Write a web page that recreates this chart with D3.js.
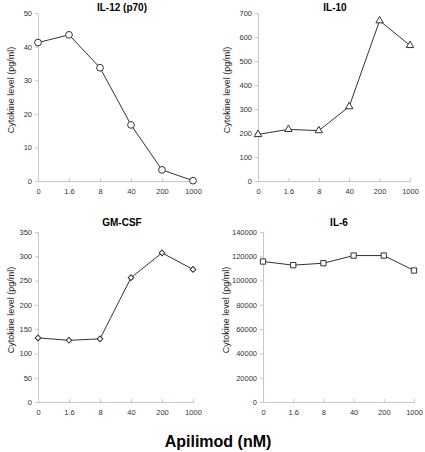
<!DOCTYPE html>
<html><head><meta charset="utf-8">
<script src="https://cdn.jsdelivr.net/npm/d3@7"></script>
<style>body{margin:0;background:#fff}svg{display:block}</style>
</head><body>
<script>
const doses = ["0","1.6","8","40","200","1000"];
const il12 = [41.2, 43.5, 33.7, 16.7, 3.3, 0.1];
const il10 = [194, 215, 210, 310, 668, 565];
const gmcsf = [132, 127, 130, 256, 307, 273];
const il6 = [115700, 112700, 114300, 120600, 120600, 108300];
const il12Ticks = [0,10,20,30,40,50];
const il10Ticks = [0,100,200,300,400,500,600,700];
const gmcsfTicks = [0,50,100,150,200,250,300,350];
const il6Ticks = [0,20000,40000,60000,80000,100000,120000,140000];

const panels = [
  {title:"IL-12 (p70)", vals:il12, ticks:il12Ticks, marker:"circle", x0:38, x1:193, y0:181, y1:13, tx:122, ty:11, lx:12},
  {title:"IL-10", vals:il10, ticks:il10Ticks, marker:"triangle", x0:258, x1:410, y0:181, y1:13, tx:335, ty:11, lx:228},
  {title:"GM-CSF", vals:gmcsf, ticks:gmcsfTicks, marker:"diamond", x0:38, x1:193, y0:402, y1:232, tx:122, ty:226, lx:12},
  {title:"IL-6", vals:il6, ticks:il6Ticks, marker:"square", x0:263, x1:414, y0:402, y1:232, tx:339, ty:226, lx:227}
];

const svg = d3.select("body").append("svg").attr("width",425).attr("height",452);
const font = "'Liberation Sans', Arial, sans-serif";

panels.forEach(p => {
  const x = d3.scalePoint().domain(doses).range([p.x0, p.x1]);
  const y = d3.scaleLinear().domain([0, d3.max(p.ticks)]).range([p.y0, p.y1]);
  const g = svg.append("g");
  const yAx = g.append("g").attr("transform",`translate(${p.x0},0)`)
    .call(d3.axisLeft(y).tickValues(p.ticks).tickSize(3).tickPadding(3).tickFormat(d3.format("d")));
  const xAx = g.append("g").attr("transform",`translate(0,${p.y0})`)
    .call(d3.axisBottom(x).tickSize(-3).tickPadding(8));
  [yAx,xAx].forEach(a => {
    a.select(".domain").attr("stroke","#c8c8c8");
    a.selectAll(".tick line").attr("stroke","#c8c8c8");
    a.selectAll("text").attr("fill","#333").style("font-family",font).style("font-size","7.5px");
  });
  const line = d3.line().x((d,i)=>x(doses[i])).y(d=>y(d));
  g.append("path").datum(p.vals).attr("d",line).attr("fill","none").attr("stroke","#333").attr("stroke-width",1);
  const symType = {circle:d3.symbolCircle, triangle:d3.symbolTriangle, diamond:d3.symbolSquare, square:d3.symbolSquare}[p.marker];
  const size = {circle:36, triangle:24, diamond:16, square:28}[p.marker];
  const rot = p.marker === "diamond" ? " rotate(45)" : "";
  g.selectAll(".m").data(p.vals).join("path")
    .attr("transform",(d,i)=>`translate(${x(doses[i])},${y(d)})${rot}`)
    .attr("d", d3.symbol().type(symType).size(size))
    .attr("fill","#fff").attr("stroke","#333").attr("stroke-width",1);
  g.append("text").attr("x",p.tx).attr("y",p.ty).attr("text-anchor","middle")
    .style("font-family",font).style("font-size","10px").style("font-weight","bold").text(p.title);
  g.append("text").attr("transform",`translate(${p.lx},${(p.y0+p.y1)/2 - 7}) rotate(-90)`)
    .attr("text-anchor","middle").attr("dominant-baseline","middle")
    .style("font-family",font).style("font-size","9px").attr("fill","#222").text("Cytokine level (pg/ml)");
});

svg.append("text").attr("x",218).attr("y",447).attr("text-anchor","middle")
  .style("font-family",font).style("font-size","16px").style("font-weight","bold").text("Apilimod (nM)");
</script>
</body></html>
